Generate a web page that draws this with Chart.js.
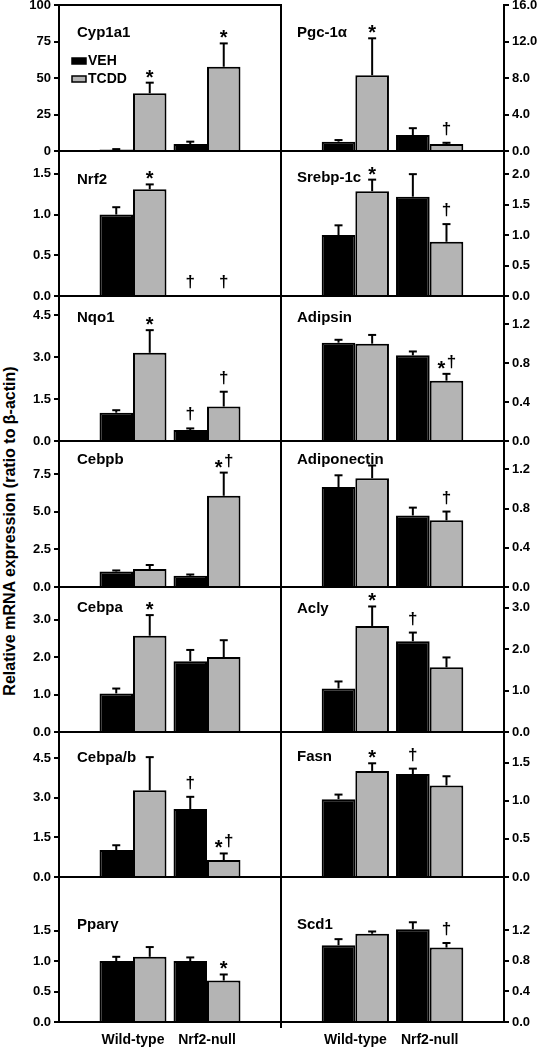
<!DOCTYPE html>
<html><head><meta charset="utf-8">
<script src="https://cdn.jsdelivr.net/npm/chart.js@4.4.0/dist/chart.umd.min.js"></script>
<style>
html,body{margin:0;padding:0;background:#fff;}
#wrap{position:relative;width:539px;height:1050px;overflow:hidden;background:#fff;}
canvas{position:absolute;}
#ytitle{position:absolute;font:bold 16px 'Liberation Sans',Arial,sans-serif;white-space:nowrap;transform:translate(-50%,-50%) rotate(-90deg);left:10px;top:531px;color:#000;}
</style></head>
<body><div id="wrap"><div id="ytitle">Relative mRNA expression (ratio to β-actin)</div></div>
<script>
// ---------- DATA ----------
const categories = ['Wild-type', 'Nrf2-null'];
const treatments = ['VEH', 'TCDD'];
const genes = ['Cyp1a1','Pgc-1α','Nrf2','Srebp-1c','Nqo1','Adipsin','Cebpb','Adiponectin','Cebpa','Acly','Cebpa/b','Fasn','Pparγ','Scd1'];

const vehMean  = [[1.0,4.8],[1.02,1.75],[1.0,0],[1.0,1.63],[1.01,0.39],[1.01,0.88],[1.03,0.74],[1.02,0.73],[1.03,1.89],[1.05,2.19],[1.02,2.57],[1.02,1.35],[1.0,1.0],[1.0,1.21]];
const vehSE    = [[0.3,1.6],[0.18,0.75],[0.09,0],[0.16,0.37],[0.09,0.06],[0.03,0.04],[0.07,0.09],[0.12,0.08],[0.13,0.30],[0.17,0.21],[0.18,0.46],[0.06,0.07],[0.07,0.06],[0.08,0.09]];
const tcddMean = [[39.5,57.7],[8.3,0.77],[1.31,0],[1.72,0.89],[3.15,1.23],[1.0,0.62],[1.19,6.06],[1.11,0.68],[2.57,2.0],[2.56,1.56],[3.28,0.64],[1.39,1.2],[1.07,0.68],[1.15,0.97]];
const tcddSE   = [[7.3,16.0],[4.05,0.13],[0.06,0],[0.19,0.29],[0.81,0.53],[0.09,0.07],[0.27,1.54],[0.13,0.09],[0.55,0.45],[0.47,0.24],[1.25,0.25],[0.10,0.12],[0.16,0.10],[0.03,0.06]];
const vehMarks  = [['',''],['',''],['','†'],['',''],['','†'],['',''],['',''],['',''],['',''],['','†'],['','†'],['','†'],['',''],['','']];
const tcddMarks = [['*','*'],['*','†'],['*','†'],['*','†'],['*','†'],['','*†'],['','*†'],['','†'],['*',''],['*',''],['','*†'],['*',''],['','*'],['','†']];
const yMax   = [100,16,1.78,2.38,5.18,1.49,9.7,1.49,3.87,3.5,5.48,1.9,2.38,1.89];
const yTicks = [[0,25,50,75,100],[0,4,8,12,16],[0,0.5,1,1.5],[0,0.5,1,1.5,2],[0,1.5,3,4.5],[0,0.4,0.8,1.2],[0,2.5,5,7.5],[0,0.4,0.8,1.2],[0,1,2,3],[0,1,2,3],[0,1.5,3,4.5],[0,0.5,1,1.5],[0,0.5,1,1.5],[0,0.4,0.8,1.2]];
const tickDecimals = [0,1,1,1,1,1,1,1,1,1,1,1,1,1];

// ---------- LAYOUT / STYLE ----------
const FONT = "'Liberation Sans', Arial, sans-serif";
const rowTops = [5,151,296,441,587,732,877,1022];
const titleDy = [28,28,29,27,22,22,19,19,21,22,26,25,48,48];
const VEH_COLOR = '#000000', TCDD_COLOR = '#b4b4b4';

function line(ctx,x1,y1,x2,y2){ctx.beginPath();ctx.moveTo(x1,y1);ctx.lineTo(x2,y2);ctx.stroke();}

const deco = {
  id:'deco',
  beforeDatasetsDraw(chart, args, o){
    const ctx = chart.ctx, ca = chart.chartArea;
    ctx.save();
    ctx.fillStyle = '#000';
    ctx.font = 'bold 15px ' + FONT;
    ctx.textAlign = 'left'; ctx.textBaseline = 'middle';
    ctx.fillText(o.title, ca.left + (o.col ? 16 : 18), ca.top + o.titleDy);
    if (o.legend) {
      const lx = ca.left + 13;
      const rows = [[ca.top + 53, VEH_COLOR, treatments[0]], [ca.top + 71, TCDD_COLOR, treatments[1]]];
      ctx.font = 'bold 14px ' + FONT;
      rows.forEach(([yy, col, txt]) => {
        ctx.fillStyle = col; ctx.fillRect(lx, yy, 14, 6);
        ctx.strokeStyle = '#000'; ctx.lineWidth = 1.5; ctx.strokeRect(lx, yy, 14, 6);
        ctx.fillStyle = '#000'; ctx.fillText(txt, lx + 16, yy + 3.5);
      });
    }
    ctx.restore();
  },
  afterDatasetsDraw(chart, args, o){
    const ctx = chart.ctx, ca = chart.chartArea, ys = chart.scales.y;
    const i = o.idx;
    ctx.save();
    ctx.strokeStyle = '#000'; ctx.lineWidth = 2; ctx.lineCap = 'butt';
    line(ctx, ca.left - (o.col ? 0 : 1), ca.bottom, ca.right + (o.col ? 1 : 0), ca.bottom);
    if (o.col === 0) line(ctx, ca.right, ca.top - 1, ca.right, ca.bottom + (o.row === 6 ? 6 : 1));
    if (o.col === 0 && o.row === 0) line(ctx, ca.left - 1, ca.top, ca.right + 1, ca.top);
    const means = [vehMean[i], tcddMean[i]], ses = [vehSE[i], tcddSE[i]], marks = [vehMarks[i], tcddMarks[i]];
    for (let d = 0; d < 2; d++) {
      const meta = chart.getDatasetMeta(d);
      for (let j = 0; j < 2; j++) {
        const el = meta.data[j + 1];
        if (!el) continue;
        const m = means[d][j], e = ses[d][j];
        const yT = ys.getPixelForValue(m + e);
        if (e > 0) {
          ctx.lineWidth = 2;
          line(ctx, el.x, el.y, el.x, yT);
          line(ctx, el.x - 4, yT, el.x + 4, yT);
        }
        const mk = marks[d][j];
        ctx.fillStyle = '#000'; ctx.textAlign = 'center'; ctx.textBaseline = 'alphabetic';
        if (mk === '*') {
          ctx.font = 'bold 20px ' + FONT; ctx.fillText('*', el.x, yT + 1);
        } else if (mk === '†') {
          ctx.font = 'bold 17px ' + FONT; ctx.fillText('†', el.x, yT - 9);
        } else if (mk === '*†') {
          ctx.font = 'bold 20px ' + FONT; ctx.fillText('*', el.x - 5, yT + 1);
          ctx.font = 'bold 17px ' + FONT; ctx.fillText('†', el.x + 5, yT - 7);
        }
      }
    }
    ctx.restore();
  }
};

const wrap = document.getElementById('wrap');
genes.forEach((g, i) => {
  const col = i % 2, row = Math.floor(i / 2);
  const top = rowTops[row], bottom = rowTops[row + 1];
  const H = bottom - top;
  const isBottom = row === 6;
  const cv = document.createElement('canvas');
  const left = col ? 270 : 0;
  const w = col ? 269 : 290;
  const h = 12 + H + (isBottom ? 30 : 12);
  cv.width = w; cv.height = h;
  cv.style.left = left + 'px'; cv.style.top = (top - 12) + 'px';
  cv.style.width = w + 'px'; cv.style.height = h + 'px';
  wrap.appendChild(cv);
  const xScale = {
    type: 'category', offset: false, display: isBottom,
    grid: {display: false}, border: {display: false},
    ticks: {autoSkip: false, maxRotation: 0, color: '#000', padding: 2, font: {family: FONT, size: 14, weight: 'bold'}}
  };
  if (isBottom) xScale.afterFit = s => { s.height = 30; };
  new Chart(cv.getContext('2d'), {
    type: 'bar',
    data: {
      labels: ['', ...categories, ''],
      datasets: [
        {label: treatments[0], data: [null, ...vehMean[i], null], backgroundColor: VEH_COLOR, borderColor: '#000', borderWidth: 2},
        {label: treatments[1], data: [null, ...tcddMean[i], null], backgroundColor: TCDD_COLOR, borderColor: '#000', borderWidth: 2}
      ]
    },
    options: {
      responsive: false, animation: false, devicePixelRatio: 1,
      datasets: {bar: {barPercentage: 1, categoryPercentage: 0.905}},
      layout: {padding: {top: 12, bottom: isBottom ? 0 : 12, left: col ? 11 : 0, right: col ? 0 : 9}},
      plugins: {
        legend: {display: false}, tooltip: {enabled: false},
        deco: {idx: i, col, row, title: g, titleDy: titleDy[i], legend: i === 0}
      },
      scales: {
        x: xScale,
        y: {
          position: col ? 'right' : 'left', min: 0, max: yMax[i], bounds: 'data',
          afterBuildTicks: s => { s.ticks = yTicks[i].map(v => ({value: v})); },
          ticks: {color: '#000', padding: 3, font: {family: FONT, size: 13, weight: 'bold'},
                  callback: v => Number(v).toFixed(tickDecimals[i])},
          grid: {display: true, drawOnChartArea: false, drawTicks: true, tickLength: 5, color: '#000', lineWidth: 2},
          border: {display: true, color: '#000', width: 2},
          afterFit: s => { s.width = col ? 35 : 59; }
        }
      }
    },
    plugins: [deco]
  });
});
</script>
</body></html>
